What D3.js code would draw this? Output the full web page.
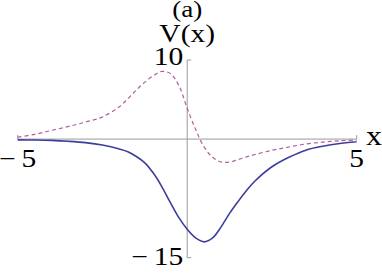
<!DOCTYPE html>
<html>
<head>
<meta charset="utf-8">
<script src="https://cdn.jsdelivr.net/npm/d3@7"></script>
<style>
  html, body { margin: 0; padding: 0; background: #fff; }
  text { font-family: "Liberation Serif", "DejaVu Serif", serif; fill: #000; }
</style>
</head>
<body>
<div id="chart"></div>
<script>
// sample positions (x) and read-off values for both curves
const xs = [-5, -4.5, -4, -3.5, -3, -2.5, -2, -1.75, -1.5, -1.25, -1, -0.75, -0.5, -0.25,
            0, 0.25, 0.5, 0.75, 1, 1.25, 1.5, 1.75, 2, 2.5, 3, 3.5, 4, 4.5, 5];
const solidV = [-0.1, -0.12, -0.17, -0.28, -0.45, -0.75, -1.25, -1.6, -2.2, -3.0, -4.3, -6.0, -8.0, -9.9,
                -11.4, -12.5, -13.0, -12.5, -11.1, -9.4, -7.9, -6.5, -5.3, -3.5, -2.3, -1.4, -0.9, -0.55, -0.33];
const dashedV = [0.25, 0.6, 1.1, 1.6, 2.15, 2.8, 4.1, 5.1, 6.2, 7.2, 8.0, 8.55, 8.3, 6.8,
                 3.9, 1.2, -1.0, -2.3, -2.9, -2.9, -2.6, -2.25, -1.95, -1.42, -1.0, -0.62, -0.38, -0.22, -0.12];
const xTicks = [-5, 5];
const yTicks = [-15, 10];

const width = 382, height = 273;
const x = d3.scaleLinear().domain([-5, 5]).range([17.7, 356.7]);
const y = d3.scaleLinear().domain([-15, 10]).range([257.7, 60]);

const svg = d3.select("#chart").append("svg")
  .attr("width", width).attr("height", height);

// text in the original is a bit wide, so stretch it horizontally
const stretch = (tx, ty) => `translate(${tx},${ty}) scale(1.18,1)`;

// axes
const axisColor = "#9a9a9a";
svg.append("line")
  .attr("x1", x(-5)).attr("x2", x(5))
  .attr("y1", y(0)).attr("y2", y(0))
  .attr("stroke", axisColor).attr("stroke-width", 1);
svg.append("line")
  .attr("x1", x(0)).attr("x2", x(0))
  .attr("y1", y(10)).attr("y2", y(-15))
  .attr("stroke", axisColor).attr("stroke-width", 1);

svg.append("g").selectAll("line").data(xTicks).join("line")
  .attr("x1", d => x(d)).attr("x2", d => x(d))
  .attr("y1", y(0)).attr("y2", y(0) - 4)
  .attr("stroke", axisColor);
svg.append("g").selectAll("line").data(yTicks).join("line")
  .attr("x1", x(0)).attr("x2", x(0) + 4)
  .attr("y1", d => y(d)).attr("y2", d => y(d))
  .attr("stroke", axisColor);

// Mathematica-style minus with a little gap
const fmt = d => (d < 0 ? "\u2212\u2009" : "") + Math.abs(d);

svg.append("g").attr("font-size", 25).attr("text-anchor", "middle")
  .selectAll("text").data(xTicks).join("text")
  .attr("transform", d => stretch(x(d), y(0) + 28))
  .text(fmt);

svg.append("g").attr("font-size", 25).attr("text-anchor", "end")
  .selectAll("text").data(yTicks).join("text")
  .attr("transform", d => stretch(x(0) - 4, y(d) + (d > 0 ? 5 : 7)))
  .text(fmt);

// axis labels
svg.append("text").attr("font-size", 25).attr("text-anchor", "middle")
  .attr("transform", stretch(x(0), 42)).text("V(x)");
svg.append("text").attr("font-size", 23).attr("text-anchor", "middle")
  .attr("transform", stretch(x(0), 17)).text("(a)");
svg.append("text").attr("font-size", 27)
  .attr("transform", stretch(366, y(0) + 6)).text("x");

// curves
const line = d3.line()
  .x(d => x(d[0]))
  .y(d => y(d[1]))
  .curve(d3.curveCatmullRom.alpha(0.5));

svg.append("path")
  .datum(xs.map((v, i) => [v, dashedV[i]]))
  .attr("d", line)
  .attr("fill", "none")
  .attr("stroke", "#b0609a")
  .attr("stroke-width", 1.2)
  .attr("stroke-dasharray", "4,3");

svg.append("path")
  .datum(xs.map((v, i) => [v, solidV[i]]))
  .attr("d", line)
  .attr("fill", "none")
  .attr("stroke", "#3d3d9e")
  .attr("stroke-width", 1.6);
</script>
</body>
</html>
